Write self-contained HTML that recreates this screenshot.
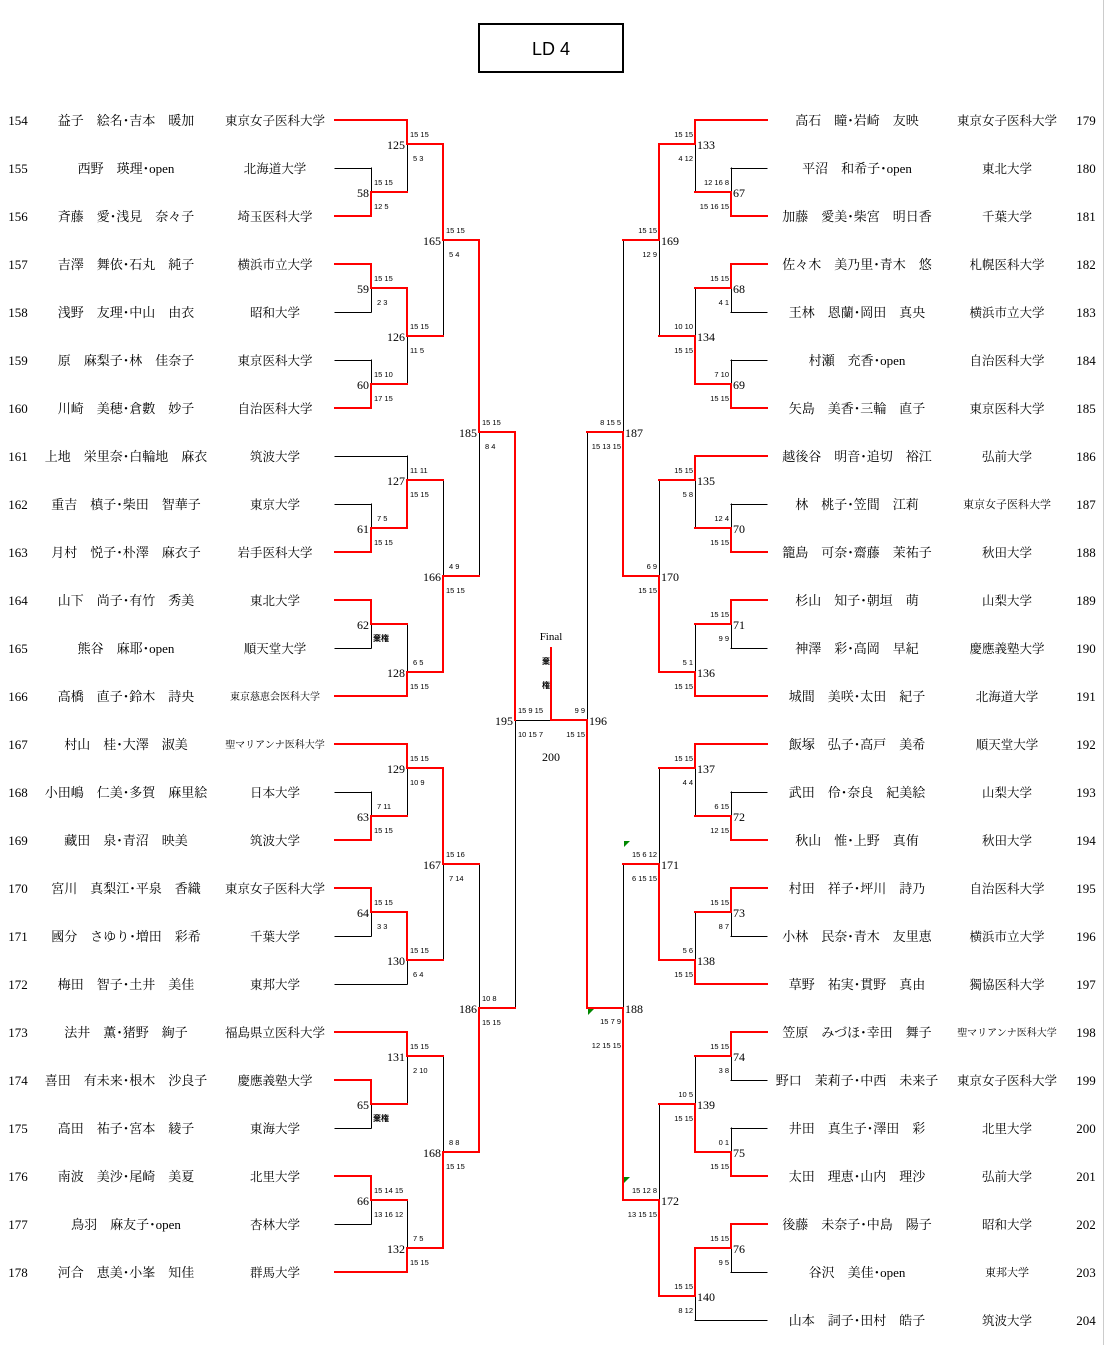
<!DOCTYPE html>
<html><head><meta charset="utf-8">
<style>
html,body{margin:0;padding:0;background:#fff;}
svg{display:block;}
.n{font-family:"Liberation Serif","Noto Serif CJK JP",serif;font-size:13px;text-anchor:middle;}
.u{font-family:"Liberation Serif","Noto Serif CJK JP",serif;font-size:12.5px;text-anchor:middle;}
.us{font-family:"Liberation Serif","Noto Serif CJK JP",serif;font-size:10px;text-anchor:middle;}
.num{font-family:"Liberation Serif",serif;font-size:13px;text-anchor:middle;}
.m{font-family:"Liberation Serif",serif;font-size:12px;}
.ml{text-anchor:end;}
.s{font-family:"Liberation Sans",sans-serif;font-size:7.5px;}
.sr{text-anchor:end;}
.k{font-family:"Liberation Sans","Noto Sans CJK JP",sans-serif;font-size:8px;font-weight:bold;}
</style></head><body>
<svg id="sv" width="1105" height="1345" viewBox="0 0 1105 1345" xmlns="http://www.w3.org/2000/svg">
<rect x="0" y="0" width="1105" height="1345" fill="#fff"/>
<line x1="1103.5" y1="0" x2="1103.5" y2="1345" stroke="#ccc" stroke-width="1"/>
<rect x="479" y="24" width="144" height="48" fill="none" stroke="#000" stroke-width="2"/>
<text x="551" y="55" style="font-family:'Liberation Sans',sans-serif;font-size:18px;text-anchor:middle;">LD 4</text>
<g id="lines"></g>
<polygon points="624,841 630,841 624,847" fill="#080"/>
<polygon points="588,1009 594,1009 588,1015" fill="#080"/>
<polygon points="624,1177 630,1177 624,1183" fill="#080"/>

<g>
<text class="num" x="18" y="125">154</text><text class="n" x="126" y="125">益子　絵名･吉本　暖加</text><text class="u" x="275" y="125">東京女子医科大学</text>
<text class="num" x="18" y="173">155</text><text class="n" x="126" y="173">西野　瑛理･open</text><text class="u" x="275" y="173">北海道大学</text>
<text class="num" x="18" y="221">156</text><text class="n" x="126" y="221">斉藤　愛･浅見　奈々子</text><text class="u" x="275" y="221">埼玉医科大学</text>
<text class="num" x="18" y="269">157</text><text class="n" x="126" y="269">吉澤　舞依･石丸　純子</text><text class="u" x="275" y="269">横浜市立大学</text>
<text class="num" x="18" y="317">158</text><text class="n" x="126" y="317">浅野　友理･中山　由衣</text><text class="u" x="275" y="317">昭和大学</text>
<text class="num" x="18" y="365">159</text><text class="n" x="126" y="365">原　麻梨子･林　佳奈子</text><text class="u" x="275" y="365">東京医科大学</text>
<text class="num" x="18" y="413">160</text><text class="n" x="126" y="413">川崎　美穂･倉數　妙子</text><text class="u" x="275" y="413">自治医科大学</text>
<text class="num" x="18" y="461">161</text><text class="n" x="126" y="461">上地　栄里奈･白輪地　麻衣</text><text class="u" x="275" y="461">筑波大学</text>
<text class="num" x="18" y="509">162</text><text class="n" x="126" y="509">重吉　槙子･柴田　智華子</text><text class="u" x="275" y="509">東京大学</text>
<text class="num" x="18" y="557">163</text><text class="n" x="126" y="557">月村　悦子･朴澤　麻衣子</text><text class="u" x="275" y="557">岩手医科大学</text>
<text class="num" x="18" y="605">164</text><text class="n" x="126" y="605">山下　尚子･有竹　秀美</text><text class="u" x="275" y="605">東北大学</text>
<text class="num" x="18" y="653">165</text><text class="n" x="126" y="653">熊谷　麻耶･open</text><text class="u" x="275" y="653">順天堂大学</text>
<text class="num" x="18" y="701">166</text><text class="n" x="126" y="701">高橋　直子･鈴木　詩央</text><text class="us" x="275" y="700">東京慈恵会医科大学</text>
<text class="num" x="18" y="749">167</text><text class="n" x="126" y="749">村山　桂･大澤　淑美</text><text class="us" x="275" y="748">聖マリアンナ医科大学</text>
<text class="num" x="18" y="797">168</text><text class="n" x="126" y="797">小田嶋　仁美･多賀　麻里絵</text><text class="u" x="275" y="797">日本大学</text>
<text class="num" x="18" y="845">169</text><text class="n" x="126" y="845">藏田　泉･青沼　映美</text><text class="u" x="275" y="845">筑波大学</text>
<text class="num" x="18" y="893">170</text><text class="n" x="126" y="893">宮川　真梨江･平泉　香織</text><text class="u" x="275" y="893">東京女子医科大学</text>
<text class="num" x="18" y="941">171</text><text class="n" x="126" y="941">國分　さゆり･増田　彩希</text><text class="u" x="275" y="941">千葉大学</text>
<text class="num" x="18" y="989">172</text><text class="n" x="126" y="989">梅田　智子･土井　美佳</text><text class="u" x="275" y="989">東邦大学</text>
<text class="num" x="18" y="1037">173</text><text class="n" x="126" y="1037">法井　薫･猪野　絢子</text><text class="u" x="275" y="1037">福島県立医科大学</text>
<text class="num" x="18" y="1085">174</text><text class="n" x="126" y="1085">喜田　有未来･根木　沙良子</text><text class="u" x="275" y="1085">慶應義塾大学</text>
<text class="num" x="18" y="1133">175</text><text class="n" x="126" y="1133">高田　祐子･宮本　綾子</text><text class="u" x="275" y="1133">東海大学</text>
<text class="num" x="18" y="1181">176</text><text class="n" x="126" y="1181">南波　美沙･尾崎　美夏</text><text class="u" x="275" y="1181">北里大学</text>
<text class="num" x="18" y="1229">177</text><text class="n" x="126" y="1229">鳥羽　麻友子･open</text><text class="u" x="275" y="1229">杏林大学</text>
<text class="num" x="18" y="1277">178</text><text class="n" x="126" y="1277">河合　恵美･小峯　知佳</text><text class="u" x="275" y="1277">群馬大学</text>
</g>

<g>
<text class="n" x="857" y="125">高石　瞳･岩崎　友映</text><text class="u" x="1007" y="125">東京女子医科大学</text><text class="num" x="1086" y="125">179</text>
<text class="n" x="857" y="173">平沼　和希子･open</text><text class="u" x="1007" y="173">東北大学</text><text class="num" x="1086" y="173">180</text>
<text class="n" x="857" y="221">加藤　愛美･柴宮　明日香</text><text class="u" x="1007" y="221">千葉大学</text><text class="num" x="1086" y="221">181</text>
<text class="n" x="857" y="269">佐々木　美乃里･青木　悠</text><text class="u" x="1007" y="269">札幌医科大学</text><text class="num" x="1086" y="269">182</text>
<text class="n" x="857" y="317">王林　恩蘭･岡田　真央</text><text class="u" x="1007" y="317">横浜市立大学</text><text class="num" x="1086" y="317">183</text>
<text class="n" x="857" y="365">村瀬　充香･open</text><text class="u" x="1007" y="365">自治医科大学</text><text class="num" x="1086" y="365">184</text>
<text class="n" x="857" y="413">矢島　美香･三輪　直子</text><text class="u" x="1007" y="413">東京医科大学</text><text class="num" x="1086" y="413">185</text>
<text class="n" x="857" y="461">越後谷　明音･追切　裕江</text><text class="u" x="1007" y="461">弘前大学</text><text class="num" x="1086" y="461">186</text>
<text class="n" x="857" y="509">林　桃子･笠間　江莉</text><text class="us" x="1007" y="508" style="font-size:11px">東京女子医科大学</text><text class="num" x="1086" y="509">187</text>
<text class="n" x="857" y="557">籠島　可奈･齋藤　茉祐子</text><text class="u" x="1007" y="557">秋田大学</text><text class="num" x="1086" y="557">188</text>
<text class="n" x="857" y="605">杉山　知子･朝垣　萌</text><text class="u" x="1007" y="605">山梨大学</text><text class="num" x="1086" y="605">189</text>
<text class="n" x="857" y="653">神澤　彩･高岡　早紀</text><text class="u" x="1007" y="653">慶應義塾大学</text><text class="num" x="1086" y="653">190</text>
<text class="n" x="857" y="701">城間　美咲･太田　紀子</text><text class="u" x="1007" y="701">北海道大学</text><text class="num" x="1086" y="701">191</text>
<text class="n" x="857" y="749">飯塚　弘子･高戸　美希</text><text class="u" x="1007" y="749">順天堂大学</text><text class="num" x="1086" y="749">192</text>
<text class="n" x="857" y="797">武田　伶･奈良　紀美絵</text><text class="u" x="1007" y="797">山梨大学</text><text class="num" x="1086" y="797">193</text>
<text class="n" x="857" y="845">秋山　惟･上野　真侑</text><text class="u" x="1007" y="845">秋田大学</text><text class="num" x="1086" y="845">194</text>
<text class="n" x="857" y="893">村田　祥子･坪川　詩乃</text><text class="u" x="1007" y="893">自治医科大学</text><text class="num" x="1086" y="893">195</text>
<text class="n" x="857" y="941">小林　民奈･青木　友里恵</text><text class="u" x="1007" y="941">横浜市立大学</text><text class="num" x="1086" y="941">196</text>
<text class="n" x="857" y="989">草野　祐実･貫野　真由</text><text class="u" x="1007" y="989">獨協医科大学</text><text class="num" x="1086" y="989">197</text>
<text class="n" x="857" y="1037">笠原　みづほ･幸田　舞子</text><text class="us" x="1007" y="1036">聖マリアンナ医科大学</text><text class="num" x="1086" y="1037">198</text>
<text class="n" x="857" y="1085">野口　茉莉子･中西　未来子</text><text class="u" x="1007" y="1085">東京女子医科大学</text><text class="num" x="1086" y="1085">199</text>
<text class="n" x="857" y="1133">井田　真生子･澤田　彩</text><text class="u" x="1007" y="1133">北里大学</text><text class="num" x="1086" y="1133">200</text>
<text class="n" x="857" y="1181">太田　理恵･山内　理沙</text><text class="u" x="1007" y="1181">弘前大学</text><text class="num" x="1086" y="1181">201</text>
<text class="n" x="857" y="1229">後藤　未奈子･中島　陽子</text><text class="u" x="1007" y="1229">昭和大学</text><text class="num" x="1086" y="1229">202</text>
<text class="n" x="857" y="1277">谷沢　美佳･open</text><text class="us" x="1007" y="1276" style="font-size:11px">東邦大学</text><text class="num" x="1086" y="1277">203</text>
<text class="n" x="857" y="1325">山本　詞子･田村　皓子</text><text class="u" x="1007" y="1325">筑波大学</text><text class="num" x="1086" y="1325">204</text>
</g>

<g class="m">
<text class="ml" x="369" y="197">58</text>
<text class="ml" x="405" y="149">125</text>
<text class="ml" x="369" y="293">59</text>
<text class="ml" x="369" y="389">60</text>
<text class="ml" x="405" y="341">126</text>
<text class="ml" x="441" y="245">165</text>
<text class="ml" x="369" y="533">61</text>
<text class="ml" x="405" y="485">127</text>
<text class="ml" x="369" y="629">62</text>
<text class="ml" x="405" y="677">128</text>
<text class="ml" x="441" y="581">166</text>
<text class="ml" x="477" y="437">185</text>
<text class="ml" x="369" y="821">63</text>
<text class="ml" x="405" y="773">129</text>
<text class="ml" x="369" y="917">64</text>
<text class="ml" x="405" y="965">130</text>
<text class="ml" x="441" y="869">167</text>
<text class="ml" x="369" y="1109">65</text>
<text class="ml" x="405" y="1061">131</text>
<text class="ml" x="369" y="1205">66</text>
<text class="ml" x="405" y="1253">132</text>
<text class="ml" x="441" y="1157">168</text>
<text class="ml" x="477" y="1013">186</text>
<text class="ml" x="513" y="725">195</text>
</g>
<g class="m">
<text x="733" y="197">67</text>
<text x="697" y="149">133</text>
<text x="733" y="293">68</text>
<text x="733" y="389">69</text>
<text x="697" y="341">134</text>
<text x="661" y="245">169</text>
<text x="625" y="437">187</text>
<text x="697" y="485">135</text>
<text x="733" y="533">70</text>
<text x="733" y="629">71</text>
<text x="697" y="677">136</text>
<text x="661" y="581">170</text>
<text x="697" y="773">137</text>
<text x="733" y="821">72</text>
<text x="733" y="917">73</text>
<text x="697" y="965">138</text>
<text x="661" y="869">171</text>
<text x="625" y="1013">188</text>
<text x="733" y="1061">74</text>
<text x="733" y="1157">75</text>
<text x="697" y="1109">139</text>
<text x="733" y="1253">76</text>
<text x="697" y="1301">140</text>
<text x="661" y="1205">172</text>
<text x="589" y="725">196</text>
</g>

<text x="551" y="640" style="font-family:'Liberation Serif',serif;font-size:11px;text-anchor:middle;">Final</text>
<text class="k" x="542" y="664">棄</text>
<text class="k" x="542" y="688">権</text>
<text x="551" y="761" style="font-family:'Liberation Serif',serif;font-size:12px;text-anchor:middle;">200</text>

<g class="s">
<text x="374" y="185">15 15</text><text x="374" y="209">12 5</text>
<text x="410" y="137">15 15</text><text x="413" y="161">5 3</text>
<text x="374" y="281">15 15</text><text x="377" y="305">2 3</text>
<text x="374" y="377">15 10</text><text x="374" y="401">17 15</text>
<text x="410" y="329">15 15</text><text x="410" y="353">11 5</text>
<text x="446" y="233">15 15</text><text x="449" y="257">5 4</text>
<text x="377" y="521">7 5</text><text x="374" y="545">15 15</text>
<text x="410" y="473">11 11</text><text x="410" y="497">15 15</text>
<text class="k" x="373" y="641">棄権</text>
<text x="413" y="665">6 5</text><text x="410" y="689">15 15</text>
<text x="449" y="569">4 9</text><text x="446" y="593">15 15</text>
<text x="482" y="425">15 15</text><text x="485" y="449">8 4</text>
<text x="377" y="809">7 11</text><text x="374" y="833">15 15</text>
<text x="410" y="761">15 15</text><text x="410" y="785">10 9</text>
<text x="374" y="905">15 15</text><text x="377" y="929">3 3</text>
<text x="410" y="953">15 15</text><text x="413" y="977">6 4</text>
<text x="446" y="857">15 16</text><text x="449" y="881">7 14</text>
<text class="k" x="373" y="1121">棄権</text>
<text x="410" y="1049">15 15</text><text x="413" y="1073">2 10</text>
<text x="374" y="1193">15 14 15</text><text x="374" y="1217">13 16 12</text>
<text x="413" y="1241">7 5</text><text x="410" y="1265">15 15</text>
<text x="449" y="1145">8 8</text><text x="446" y="1169">15 15</text>
<text x="482" y="1001">10 8</text><text x="482" y="1025">15 15</text>
<text x="518" y="713">15 9 15</text><text x="518" y="737">10 15 7</text>
</g>
<g class="s sr">
<text x="729" y="185">12 16 8</text><text x="729" y="209">15 16 15</text>
<text x="693" y="137">15 15</text><text x="693" y="161">4 12</text>
<text x="729" y="281">15 15</text><text x="729" y="305">4 1</text>
<text x="729" y="377">7 10</text><text x="729" y="401">15 15</text>
<text x="693" y="329">10 10</text><text x="693" y="353">15 15</text>
<text x="657" y="233">15 15</text><text x="657" y="257">12 9</text>
<text x="621" y="425">8 15 5</text><text x="621" y="449">15 13 15</text>
<text x="693" y="473">15 15</text><text x="693" y="497">5 8</text>
<text x="729" y="521">12 4</text><text x="729" y="545">15 15</text>
<text x="729" y="617">15 15</text><text x="729" y="641">9 9</text>
<text x="693" y="665">5 1</text><text x="693" y="689">15 15</text>
<text x="657" y="569">6 9</text><text x="657" y="593">15 15</text>
<text x="693" y="761">15 15</text><text x="693" y="785">4 4</text>
<text x="729" y="809">6 15</text><text x="729" y="833">12 15</text>
<text x="729" y="905">15 15</text><text x="729" y="929">8 7</text>
<text x="693" y="953">5 6</text><text x="693" y="977">15 15</text>
<text x="657" y="857">15 6 12</text><text x="657" y="881">6 15 15</text>
<text x="621" y="1024">15 7 9</text><text x="621" y="1048">12 15 15</text>
<text x="729" y="1049">15 15</text><text x="729" y="1073">3 8</text>
<text x="729" y="1145">0 1</text><text x="729" y="1169">15 15</text>
<text x="693" y="1097">10 5</text><text x="693" y="1121">15 15</text>
<text x="729" y="1241">15 15</text><text x="729" y="1265">9 5</text>
<text x="693" y="1289">15 15</text><text x="693" y="1313">8 12</text>
<text x="657" y="1193">15 12 8</text><text x="657" y="1217">13 15 15</text>
<text x="585" y="713">9 9</text><text x="585" y="737">15 15</text>
</g>
</svg>
<script>
(function(){
var M=[
[371,168,335,0,216,335,1,192,1],[407,120,335,1,192,371,1,144,0],
[371,264,335,1,312,335,0,288,0],[371,360,335,0,408,335,1,384,1],
[407,288,371,1,384,371,1,336,0],[443,144,407,1,336,407,1,240,0],
[371,504,335,0,552,335,1,528,1],[407,456,335,0,528,371,1,480,1],
[371,600,335,1,648,335,0,624,0],[407,624,371,1,696,335,1,672,1],
[443,480,407,1,672,407,1,576,1],[479,240,443,1,576,443,1,432,0],
[371,792,335,0,840,335,1,816,1],[407,744,335,1,816,371,1,768,0],
[371,888,335,1,936,335,0,912,0],[407,912,371,1,984,335,0,960,0],
[443,768,407,1,960,407,1,864,0],[371,1080,335,1,1128,335,0,1104,0],
[407,1032,335,1,1104,371,1,1056,0],[371,1176,335,1,1224,335,0,1200,0],
[407,1200,371,1,1272,335,1,1248,1],[443,1056,407,1,1248,407,1,1152,1],
[479,864,443,1,1152,443,1,1008,1],[515,432,479,1,1008,479,1,720,0],
[731,168,767,0,216,767,1,192,1],[695,120,767,1,192,731,1,144,0],
[731,264,767,1,312,767,0,288,0],[731,360,767,0,408,767,1,384,1],
[695,288,731,1,384,731,1,336,1],[659,144,695,1,336,695,1,240,0],
[731,504,767,0,552,767,1,528,1],[695,456,767,1,528,731,1,480,0],
[731,600,767,1,648,767,0,624,0],[695,624,731,1,696,767,1,672,1],
[659,480,695,1,672,695,1,576,1],[623,240,659,1,576,659,1,432,1],
[731,792,767,0,840,767,1,816,1],[695,744,767,1,816,731,1,768,0],
[731,888,767,1,936,767,0,912,0],[695,912,731,1,984,767,1,960,1],
[659,768,695,1,960,695,1,864,1],[731,1032,767,1,1080,767,0,1056,0],
[731,1128,767,0,1176,767,1,1152,1],[695,1056,731,1,1152,731,1,1104,1],
[731,1224,767,1,1272,767,0,1248,0],[695,1248,731,1,1320,767,0,1296,0],
[659,1104,695,1,1296,695,1,1200,1],[623,864,659,1,1200,659,1,1008,1],
[587,432,623,1,1008,623,1,720,1]
];
var g=document.getElementById('lines'),ns='http://www.w3.org/2000/svg',blk=[],red=[];
function L(a,x1,y1,x2,y2){a.push([x1,y1,x2,y2]);}
M.forEach(function(m){
 var x=m[0];
 L(m[3]?red:blk,m[2],m[1],x,m[1]);
 L(m[6]?red:blk,m[5],m[4],x,m[4]);
 L(blk,x,m[1],x,m[4]);
 var wy=m[8]?m[4]:m[1];
 L(red,x,wy,x,m[7]);
});
L(blk,515,720,551,720);L(red,551,720,587,720);L(red,551,648,551,720);
function draw(a,c,w){a.forEach(function(l){var e=document.createElementNS(ns,'line');
var o=(w==1?0.5:0);
if(l[0]==l[2]){e.setAttribute('x1',l[0]+o);e.setAttribute('x2',l[2]+o);e.setAttribute('y1',l[1]);e.setAttribute('y2',l[3]);}
else{e.setAttribute('x1',l[0]);e.setAttribute('x2',l[2]);e.setAttribute('y1',l[1]+o);e.setAttribute('y2',l[3]+o);}
e.setAttribute('stroke',c);e.setAttribute('stroke-width',w);e.setAttribute('stroke-linecap','square');g.appendChild(e);});}
draw(blk,'#000',1);draw(red,'#f00',2);
})();
</script>
</body></html>
